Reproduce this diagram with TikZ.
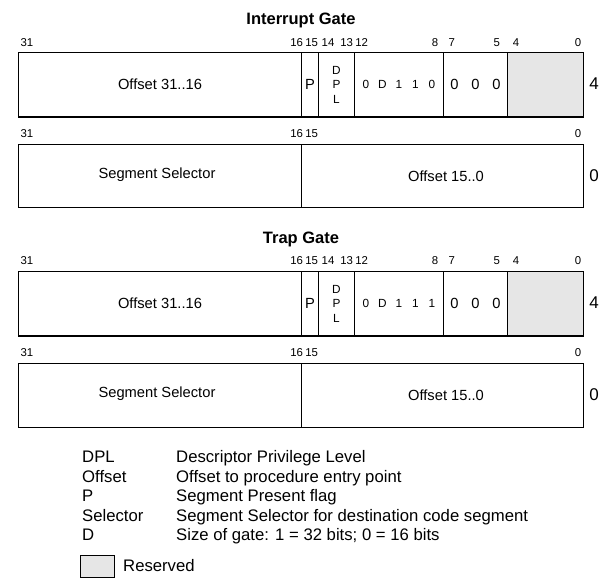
\documentclass[tikz,border=0pt]{standalone}
\usepackage{fontspec}
\setmainfont{Liberation Sans}
\definecolor{resgray}{HTML}{E6E6E6}
\tikzset{
  field/.style={draw, line width=1pt, inner sep=0pt, anchor=north west, font=\fontsize{14.7}{17}\selectfont},
  bitlbl/.style={inner sep=0pt, anchor=center, font=\fontsize{11.4}{13}\selectfont},
  title/.style={inner sep=0pt, anchor=center, font=\fontsize{16.5}{19}\selectfont\bfseries},
  rowlbl/.style={inner sep=0pt, anchor=center, font=\fontsize{17}{19}\selectfont},
  legend/.style={inner sep=0pt, anchor=base west, font=\fontsize{16.7}{19}\selectfont},
}
\newcommand{\bx}[2]{\makebox[#1pt]{#2}}
\begin{document}
\begin{tikzpicture}[x=1pt,y=-1pt]
\useasboundingbox (0,0) rectangle (614,582);

% ---------- Interrupt Gate ----------
\node[title] (t1) at (301,20) {Interrupt Gate};
\foreach \n/\x in {31/27,16/296.7,15/311.7,14/328,13/346.7,12/361.7,8/435,7/451.7,5/496.7,4/516,0/578}
  \node[bitlbl] (a\n) at (\x,43) {\n};

\node[field, minimum width=283pt, minimum height=64pt] (off1) at (18,52) {Offset 31..16};
\node[field, minimum width=17pt, minimum height=64pt] (p1) at (301,52) {P};
\node[field, minimum width=36pt, minimum height=64pt, align=center, font=\fontsize{11.8}{14.5}\selectfont] (dpl1) at (318,52) {D\\P\\L};
\node[field, minimum width=89pt, minimum height=64pt, font=\fontsize{11.8}{14}\selectfont] (type1) at (354,52) {\bx{16.5}{0}\bx{16.5}{D}\bx{16.5}{1}\bx{16.5}{1}\bx{16.5}{0}};
\node[field, minimum width=64pt, minimum height=64pt] (zero1) at (443,52) {\bx{21}{0}\bx{21}{0}\bx{21}{0}};
\node[field, fill=resgray, minimum width=76pt, minimum height=64pt] (res1) at (507,52) {};
\draw[line width=2pt] (off1.south west) -- (res1.south east);
\node[rowlbl] (r1) at (594,84) {4};

\foreach \n/\x in {31/27,16/296.7,15/311.7,0/578}
  \node[bitlbl] (b\n) at (\x,134) {\n};
\node[field, minimum width=283pt, minimum height=63pt] (sel1) at (18,144) {};
\node[field, minimum width=282pt, minimum height=63pt] (off2) at (301,144) {};
\node[inner sep=0pt, font=\fontsize{14.7}{17}\selectfont] (sel1t) at (157,175) {Segment Selector};
\node[inner sep=0pt, font=\fontsize{14.7}{17}\selectfont] (off2t) at (446,176) {Offset 15..0};
\node[rowlbl] (r2) at (594,176) {0};

% ---------- Trap Gate ----------
\node[title] (t2) at (301,239) {Trap Gate};
\foreach \n/\x in {31/27,16/296.7,15/311.7,14/328,13/346.7,12/361.7,8/435,7/451.7,5/496.7,4/516,0/578}
  \node[bitlbl] (c\n) at (\x,261) {\n};

\node[field, minimum width=283pt, minimum height=64pt] (off3) at (18,271) {Offset 31..16};
\node[field, minimum width=17pt, minimum height=64pt] (p3) at (301,271) {P};
\node[field, minimum width=36pt, minimum height=64pt, align=center, font=\fontsize{11.8}{14.5}\selectfont] (dpl3) at (318,271) {D\\P\\L};
\node[field, minimum width=89pt, minimum height=64pt, font=\fontsize{11.8}{14}\selectfont] (type3) at (354,271) {\bx{16.5}{0}\bx{16.5}{D}\bx{16.5}{1}\bx{16.5}{1}\bx{16.5}{1}};
\node[field, minimum width=64pt, minimum height=64pt] (zero3) at (443,271) {\bx{21}{0}\bx{21}{0}\bx{21}{0}};
\node[field, fill=resgray, minimum width=76pt, minimum height=64pt] (res3) at (507,271) {};
\draw[line width=2pt] (off3.south west) -- (res3.south east);
\node[rowlbl] (r3) at (594,303) {4};

\foreach \n/\x in {31/27,16/296.7,15/311.7,0/578}
  \node[bitlbl] (d\n) at (\x,353) {\n};
\node[field, minimum width=283pt, minimum height=64pt] (sel4) at (18,363) {};
\node[field, minimum width=282pt, minimum height=64pt] (off4) at (301,363) {};
\node[inner sep=0pt, font=\fontsize{14.7}{17}\selectfont] (sel4t) at (157,394) {Segment Selector};
\node[inner sep=0pt, font=\fontsize{14.7}{17}\selectfont] (off4t) at (446,395) {Offset 15..0};
\node[rowlbl] (r4) at (594,395) {0};

% ---------- Legend ----------
\node[legend] (k1) at (82,462) {DPL};
\node[legend] (v1) at (176,462) {Descriptor Privilege Level};
\node[legend] (k2) at (82,482) {Offset};
\node[legend] (v2) at (176,482) {Offset to procedure entry point};
\node[legend] (k3) at (82,501) {P};
\node[legend] (v3) at (176,501) {Segment Present flag};
\node[legend] (k4) at (82,521) {Selector};
\node[legend] (v4) at (176,521) {Segment Selector for destination code segment};
\node[legend] (k5) at (82,540) {D};
\node[legend] (v5) at (176,540) {Size of gate: 1 = 32 bits; 0 = 16 bits};

\node[draw, line width=1pt, fill=resgray, inner sep=0pt, anchor=north west, minimum width=34pt, minimum height=22pt] (resbox) at (80,555) {};
\node[inner sep=0pt, anchor=west, font=\fontsize{16.7}{19}\selectfont] (reslbl) at (123,566) {Reserved};
\end{tikzpicture}
\end{document}
